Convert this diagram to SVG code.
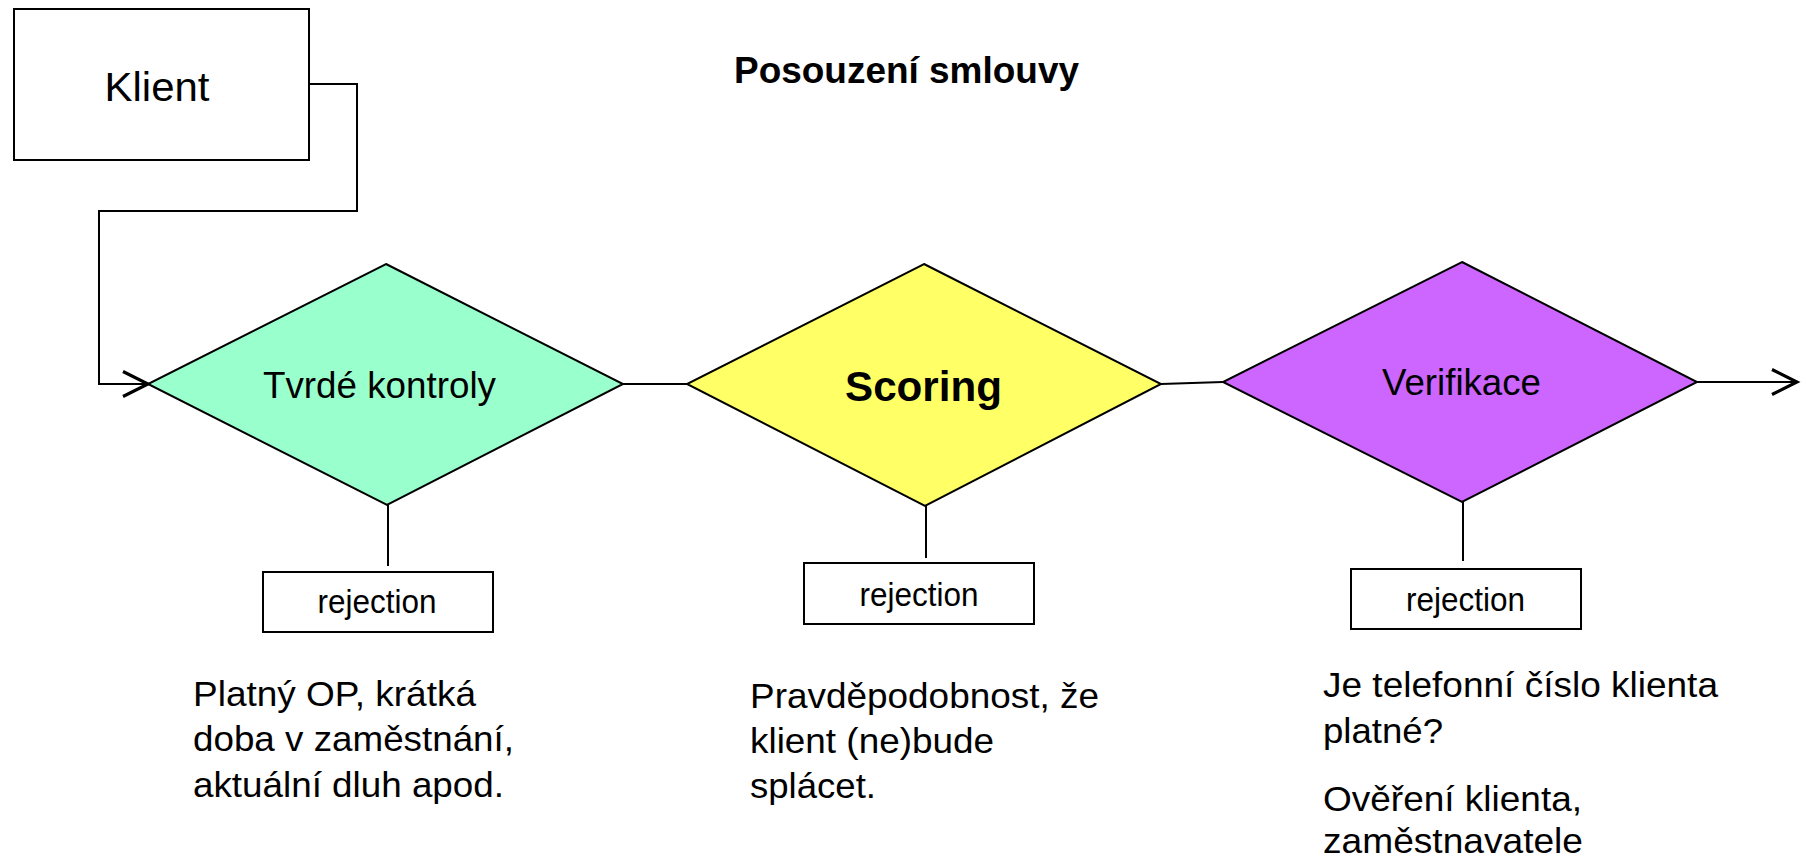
<svg xmlns="http://www.w3.org/2000/svg" width="1806" height="860" viewBox="0 0 1806 860">
<style>
  text { font-family: "Liberation Sans", Arial, sans-serif; fill: #000; }
  .box { fill: #fff; stroke: #000; stroke-width: 2; }
  .dia { stroke: #000; stroke-width: 2; stroke-linejoin: miter; }
  .con { fill: none; stroke: #000; stroke-width: 2; }
  .body { font-size: 35px; }
  .rej { font-size: 33px; text-anchor: middle; }
</style>
<defs>
  <marker id="arr" markerUnits="userSpaceOnUse" markerWidth="30" markerHeight="30" viewBox="-22 -12 24 24" refX="0" refY="0" orient="auto" overflow="visible">
    <path d="M-20,-10 L0,0 L-20,10" fill="none" stroke="#000" stroke-width="2.5"/>
  </marker>
</defs>
<rect width="1806" height="860" fill="#fff"/>

<text id="title" x="734" y="83" font-size="36" font-weight="bold" textLength="345" lengthAdjust="spacingAndGlyphs">Posouzení smlouvy</text>

<g id="connectors">
  <path class="con" d="M309,84 H357 V211 H99 V384 H148" marker-end="url(#arr)"/>
  <line class="con" x1="623" y1="384" x2="687" y2="384"/>
  <line class="con" x1="1161" y1="384" x2="1223" y2="382"/>
  <line class="con" x1="1697" y1="382" x2="1797" y2="382" marker-end="url(#arr)"/>
  <line class="con" x1="388" y1="505" x2="388" y2="566"/>
  <line class="con" x1="926" y1="497" x2="926" y2="558"/>
  <line class="con" x1="1463" y1="502" x2="1463" y2="561"/>
</g>

<g id="klient">
  <rect class="box" x="14" y="9" width="295" height="151"/>
  <text x="104.5" y="101" font-size="41" textLength="105" lengthAdjust="spacingAndGlyphs">Klient</text>
</g>

<g id="tvrde-kontroly">
  <polygon class="dia" fill="#99FFCC" points="386,264 623,384 387,505 148,384"/>
  <text x="263" y="398" font-size="36" textLength="233" lengthAdjust="spacingAndGlyphs">Tvrdé kontroly</text>
</g>

<g id="scoring">
  <polygon class="dia" fill="#FFFF66" points="924,264 1161,384 925,506 687,384"/>
  <text x="845" y="401" font-size="42" font-weight="bold" textLength="157" lengthAdjust="spacingAndGlyphs">Scoring</text>
</g>

<g id="verifikace">
  <polygon class="dia" fill="#CC66FF" points="1462,262 1697,382 1462,502 1223,382"/>
  <text x="1382" y="395" font-size="37" textLength="159" lengthAdjust="spacingAndGlyphs">Verifikace</text>
</g>

<g id="rejection-1">
  <rect class="box" x="263" y="572" width="230" height="60"/>
  <text class="rej" x="377" y="613" textLength="119" lengthAdjust="spacingAndGlyphs">rejection</text>
</g>

<g id="rejection-2">
  <rect class="box" x="804" y="563" width="230" height="61"/>
  <text class="rej" x="919" y="606" textLength="119" lengthAdjust="spacingAndGlyphs">rejection</text>
</g>

<g id="rejection-3">
  <rect class="box" x="1351" y="569" width="230" height="60"/>
  <text class="rej" x="1465.5" y="611" textLength="119" lengthAdjust="spacingAndGlyphs">rejection</text>
</g>

<g id="note-1">
  <text class="body" x="193" y="706" textLength="283" lengthAdjust="spacingAndGlyphs">Platný OP, krátká</text>
  <text class="body" x="193" y="751" textLength="321" lengthAdjust="spacingAndGlyphs">doba v zaměstnání,</text>
  <text class="body" x="193" y="797" textLength="311" lengthAdjust="spacingAndGlyphs">aktuální dluh apod.</text>
</g>

<g id="note-2">
  <text class="body" x="750" y="708" textLength="349" lengthAdjust="spacingAndGlyphs">Pravděpodobnost, že</text>
  <text class="body" x="750" y="753" textLength="244" lengthAdjust="spacingAndGlyphs">klient (ne)bude</text>
  <text class="body" x="750" y="798" textLength="126" lengthAdjust="spacingAndGlyphs">splácet.</text>
</g>

<g id="note-3">
  <text class="body" x="1323" y="697" textLength="395" lengthAdjust="spacingAndGlyphs">Je telefonní číslo klienta</text>
  <text class="body" x="1323" y="743" textLength="120" lengthAdjust="spacingAndGlyphs">platné?</text>
  <text class="body" x="1323" y="811" textLength="259" lengthAdjust="spacingAndGlyphs">Ověření klienta,</text>
  <text class="body" x="1323" y="853" textLength="260" lengthAdjust="spacingAndGlyphs">zaměstnavatele</text>
</g>
</svg>
